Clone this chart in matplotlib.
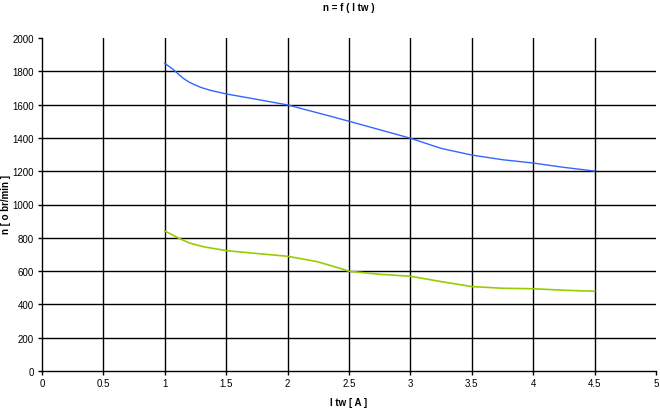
import matplotlib
matplotlib.use("Agg")
from matplotlib import pyplot as plt

i_blue = [1.0, 1.07, 1.15, 1.2, 1.29, 1.37, 1.5, 1.7, 2.0, 2.35, 2.5, 2.75, 3.0, 3.25, 3.5,
          3.75, 4.0, 4.25, 4.5]
n_blue = [1848, 1810, 1758, 1734, 1704, 1686, 1664, 1638, 1598, 1530, 1500, 1449, 1398, 1337,
          1297, 1269, 1249, 1223, 1201]

i_green = [1.0, 1.11, 1.2, 1.31, 1.5, 1.7, 2.0, 2.24, 2.47, 2.5, 2.75, 3.0, 3.25, 3.5, 3.75,
           4.0, 4.25, 4.5]
n_green = [841, 799, 769, 747, 723, 709, 689, 657, 607, 599, 581, 569, 537, 507, 497, 494,
           485, 479]

x_ticks = [0, 0.5, 1, 1.5, 2, 2.5, 3, 3.5, 4, 4.5, 5]
y_ticks = [0, 200, 400, 600, 800, 1000, 1200, 1400, 1600, 1800, 2000]

plt.rcParams["font.family"] = ["Liberation Sans Narrow", "Liberation Sans", "DejaVu Sans"]

fig = plt.figure(figsize=(6.6, 4.1), dpi=100)
ax = fig.add_axes([42 / 660, 38 / 410, 614 / 660, 333 / 410])

# grid like excel: no line at the max values
for x in x_ticks[1:-1]:
    ax.axvline(x, color="black", lw=1, zorder=1)
for y in y_ticks[1:-1]:
    ax.axhline(y, color="black", lw=1, zorder=1)

ax.plot(i_blue, n_blue, color="#3366ff", lw=1, zorder=3)
ax.plot(i_green, n_green, color="#99cc00", lw=1.2, zorder=3)

ax.set_xlim(0, 5)
ax.set_ylim(0, 2000)
ax.set_xticks(x_ticks)
ax.set_xticklabels([str(x) for x in x_ticks])
ax.set_yticks(y_ticks)
for s in ["top", "right"]:
    ax.spines[s].set_visible(False)
for s in ["left", "bottom"]:
    ax.spines[s].set_linewidth(1)
ax.tick_params(direction="out", length=3, width=1, labelsize=7)
ax.tick_params(axis="x", pad=2)
ax.tick_params(axis="y", pad=3)

fig.text(349 / 660, 1 - 403 / 410, "I tw [ A ]", fontsize=7, fontweight="bold",
         ha="center", va="center")
fig.text(6 / 660, 1 - 205 / 410, "n [ o br/min ]", fontsize=7, fontweight="bold",
         ha="center", va="center", rotation=90)
fig.text(349 / 660, 1 - 8 / 410, "n = f ( I tw )", fontsize=7, fontweight="bold",
         ha="center", va="center")

fig.savefig("out.png", dpi=100)
